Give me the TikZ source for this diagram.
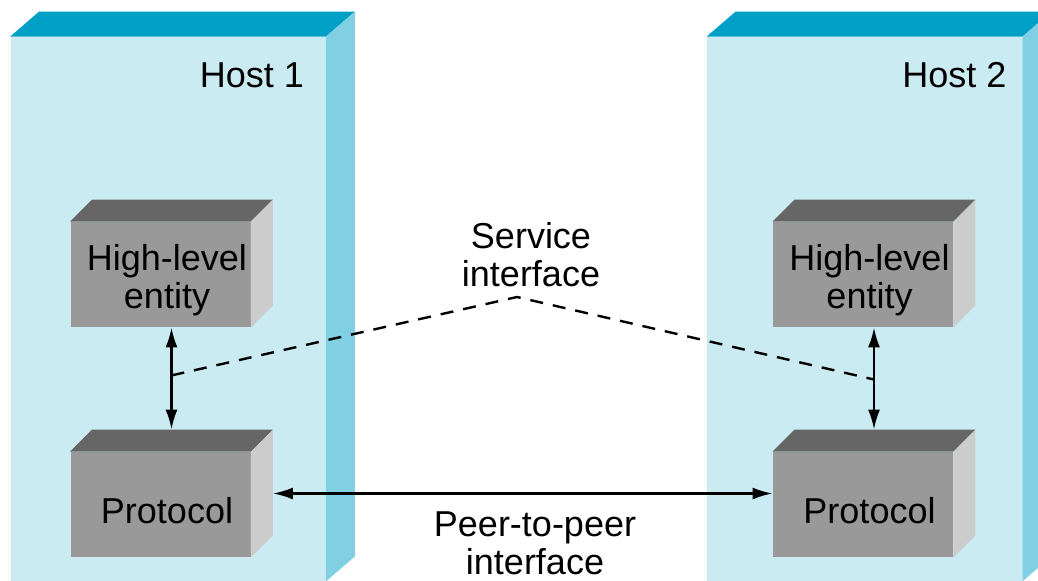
\documentclass[tikz,border=0pt]{standalone}
\usepackage{fontspec}
\setmainfont{Liberation Sans}
\usetikzlibrary{arrows.meta,calc}
\definecolor{HostFront}{RGB}{203,235,242}
\definecolor{HostTop}{RGB}{0,160,198}
\definecolor{HostSide}{RGB}{128,207,227}
\definecolor{UnitFront}{RGB}{153,153,153}
\definecolor{UnitTop}{RGB}{102,102,102}
\definecolor{UnitSide}{RGB}{204,204,204}

\begin{document}
\begin{tikzpicture}[x=0.5pt,y=-0.5pt,font=\fontsize{18}{19}\selectfont]
   \useasboundingbox (0,0) rectangle (1038,581);
   \clip (0,0) rectangle (1038,581);
   \tikzstyle{host}=[rectangle, fill=HostFront, inner sep=0pt, minimum width=157.5pt, minimum height=272pt]
   \tikzstyle{unit}=[rectangle, fill=UnitFront, inner sep=0pt, minimum width=90pt, minimum height=52.5pt]
   \tikzstyle{link}=[{Latex[length=10pt,width=6pt]}-{Latex[length=10pt,width=6pt]}, line width=1.2pt]
   \foreach \i/\x/\hx/\t/\lx in {1/160.5/168/0.47/-15,2/863/864.5/0.51/-9} {
       \node[host] (host\i) at (\hx,309) {};
       \fill[HostTop] (host\i.north west) -- ++(29,-25) -- ([shift={(29,-25)}]host\i.north east) -- (host\i.north east) -- cycle;
       \fill[HostSide] (host\i.north east) -- ++(29,-25) -- ([shift={(29,-25)}]host\i.south east) -- (host\i.south east) -- cycle;
       \node[anchor=base east] (label\i) at ([shift={(\lx,51)}]host\i.north east) {Host \i};
       \foreach \j/\y/\word in {hl/274.5/{High-level\\entity},pr/504.5/{Protocol}} {
           \node[unit] (\j\i) at (\x,\y) {};
           \fill[UnitTop] (\j\i.north west) -- ++(22,-22) -- ([shift={(22,-22)}]\j\i.north east) -- (\j\i.north east) -- cycle;
           \fill[UnitSide] (\j\i.north east) -- ++(22,-22) -- ([shift={(22,-22)}]\j\i.south east) -- (\j\i.south east) -- cycle;
           \node[align=center] (\j\i text) at ([shift={(6.5,6)}]\j\i.center) {\word};
       }
       \coordinate (up\i) at ([shift={(11,0)}]hl\i.south);
       \coordinate (down\i) at ([shift={(11,-22)}]pr\i.north);
       \draw[link] (up\i) -- (down\i);
       \coordinate (tap\i) at ($(up\i)!\t!(down\i)$);
   }
   \draw[link] ([shift={(22,-11)}]pr1.east) -- ([shift={(0,-11)}]pr2.west);
   \node[align=center] (service) at (531,255) {Service\\interface};
   \coordinate (apex) at (517,297);
   \draw[line width=1.2pt, dash pattern=on 6.5pt off 5pt] (tap1) -- (apex) -- (tap2);
   \node[align=center] (peer) at (535,543) {Peer-to-peer\\interface};
\end{tikzpicture}
\end{document}
